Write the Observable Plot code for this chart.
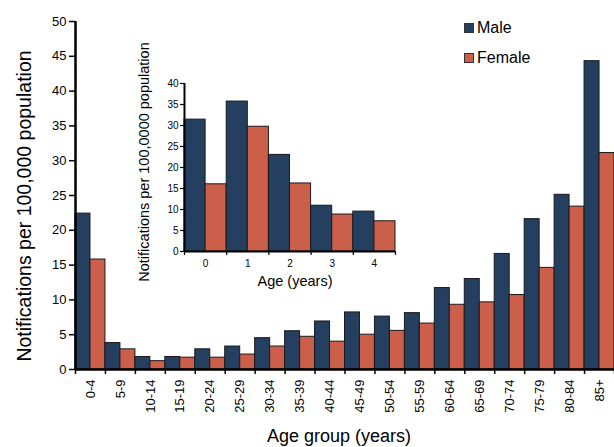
<!DOCTYPE html>
<html><head><meta charset="utf-8">
<script src="https://cdn.jsdelivr.net/npm/d3@7"></script>
<script src="https://cdn.jsdelivr.net/npm/@observablehq/plot@0.6"></script>
<style>
body{margin:0;background:#fff;font-family:"Liberation Sans",Arial,sans-serif;}
#wrap{position:relative;width:614px;height:447px;overflow:hidden;background:#fff;}
#wrap svg{position:absolute;overflow:visible;}
</style></head><body><div id="wrap"></div>
<script>
const groups = ["0-4","5-9","10-14","15-19","20-24","25-29","30-34","35-39","40-44","45-49","50-54","55-59","60-64","65-69","70-74","75-79","80-84","85+"];
const male   = [22.4,3.8,1.8,1.8,2.9,3.3,4.5,5.5,6.9,8.2,7.6,8.1,11.7,13.0,16.6,21.6,25.1,44.3];
const female = [15.8,2.9,1.2,1.7,1.7,2.15,3.3,4.7,4.0,5.0,5.55,6.6,9.3,9.65,10.7,14.6,23.4,31.1];
const insetAges   = ["0","1","2","3","4"];
const insetMale   = [31.4,35.7,23.0,10.9,9.5];
const insetFemale = [16.0,29.7,16.2,8.8,7.2];
const sexes  = ["Male","Female"];
const colors = ["#243F5F","#CC5F49"];
const mainTicks  = d3.range(0,51,5);
const insetTicks = d3.range(0,41,5);
const mainYLabel  = "Notifications per 100,000 population";
const mainXLabel  = "Age group (years)";
const insetYLabel = "Notifications per 100,0000 population";
const insetXLabel = "Age (years)";

function rows(cats, m, f) {
  return cats.flatMap((c,i)=>[
    {cat:c, sex:"Male",   x1:i,     x2:i+0.5, value:m[i]},
    {cat:c, sex:"Female", x1:i+0.5, x2:i+1,   value:f[i]}
  ]);
}
const mainData  = rows(groups, male, female);
const insetData = rows(insetAges, insetMale, insetFemale);
const font = "Liberation Sans, Arial, sans-serif";

const main = Plot.plot({
  width:614, height:447, marginLeft:75, marginRight:0, marginTop:21, marginBottom:78,
  style:{fontFamily:font, fontSize:"13px", color:"#000", background:"transparent", overflow:"visible"},
  x:{domain:[0,groups.length]},
  y:{domain:[0,50]},
  color:{domain:sexes, range:colors},
  marks:[
    Plot.rectY(mainData, {x1:"x1", x2:"x2", y:"value", fill:"sex", stroke:"#1a1a1a", strokeWidth:1}),
    Plot.axisY({ticks:mainTicks, tickSize:6, tickPadding:3, fontSize:13, strokeWidth:1.5, label:null}),
    Plot.axisX({ticks:d3.range(0,groups.length+1), tickSize:5, strokeWidth:1.5, tickFormat:()=>"", label:null}),
    Plot.axisX({ticks:groups.map((g,i)=>i+0.5), tickSize:0, tickPadding:10, tickRotate:-90, tickFormat:v=>groups[Math.floor(v)], fontSize:13, label:null}),
    Plot.ruleX([0], {strokeWidth:2.5}),
    Plot.ruleY([0], {strokeWidth:2.5})
  ]
});
main.style.left = "0px"; main.style.top = "0px";

const inset = Plot.plot({
  width:260, height:270, marginLeft:44, marginRight:5, marginTop:53, marginBottom:49,
  style:{fontFamily:font, fontSize:"10px", color:"#000", background:"transparent", overflow:"visible"},
  x:{domain:[0,insetAges.length]},
  y:{domain:[0,40]},
  color:{domain:sexes, range:colors},
  marks:[
    Plot.rectY(insetData, {x1:"x1", x2:"x2", y:"value", fill:"sex", stroke:"#1a1a1a", strokeWidth:1}),
    Plot.axisY({ticks:insetTicks, tickSize:4, tickPadding:2, fontSize:10, strokeWidth:1.2, label:null}),
    Plot.axisX({ticks:d3.range(0,insetAges.length+1), tickSize:4, strokeWidth:1.2, tickFormat:()=>"", label:null}),
    Plot.axisX({ticks:insetAges.map((g,i)=>i+0.5), tickSize:0, tickPadding:8, tickFormat:v=>insetAges[Math.floor(v)], fontSize:10, label:null}),
    Plot.ruleX([0], {strokeWidth:2}),
    Plot.ruleY([0], {strokeWidth:2})
  ]
});
inset.style.left = "140px"; inset.style.top = "30px";

const wrap = document.getElementById("wrap");
wrap.appendChild(main);
wrap.appendChild(inset);

const ms = d3.select(main);
ms.append("text").attr("transform","translate(31,206) rotate(-90)").attr("text-anchor","middle")
  .style("font-size","19.5px").style("font-family",font).attr("fill","#000").text(mainYLabel);
ms.append("text").attr("x",339).attr("y",441.5).attr("text-anchor","middle")
  .style("font-size","18px").style("font-family",font).attr("fill","#000").text(mainXLabel);

const leg = ms.append("g").attr("text-anchor","start");
sexes.forEach((s,i)=>{
  const y = 23 + i*30;
  leg.append("rect").attr("x",464.5).attr("y",y+0.5).attr("width",9).attr("height",9)
    .attr("fill",colors[i]).attr("stroke","#333").attr("stroke-width",1);
  leg.append("text").attr("x",477).attr("y",y+10).attr("text-anchor","start")
    .style("font-size","16px").style("font-family",font).attr("fill","#000").text(s);
});

const is = d3.select(inset);
is.append("text").attr("transform","translate(9,132) rotate(-90)").attr("text-anchor","middle")
  .style("font-size","14.5px").style("font-family",font).attr("fill","#000").text(insetYLabel);
is.append("text").attr("x",155).attr("y",256).attr("text-anchor","middle")
  .style("font-size","14.5px").style("font-family",font).attr("fill","#000").text(insetXLabel);
</script></body></html>
